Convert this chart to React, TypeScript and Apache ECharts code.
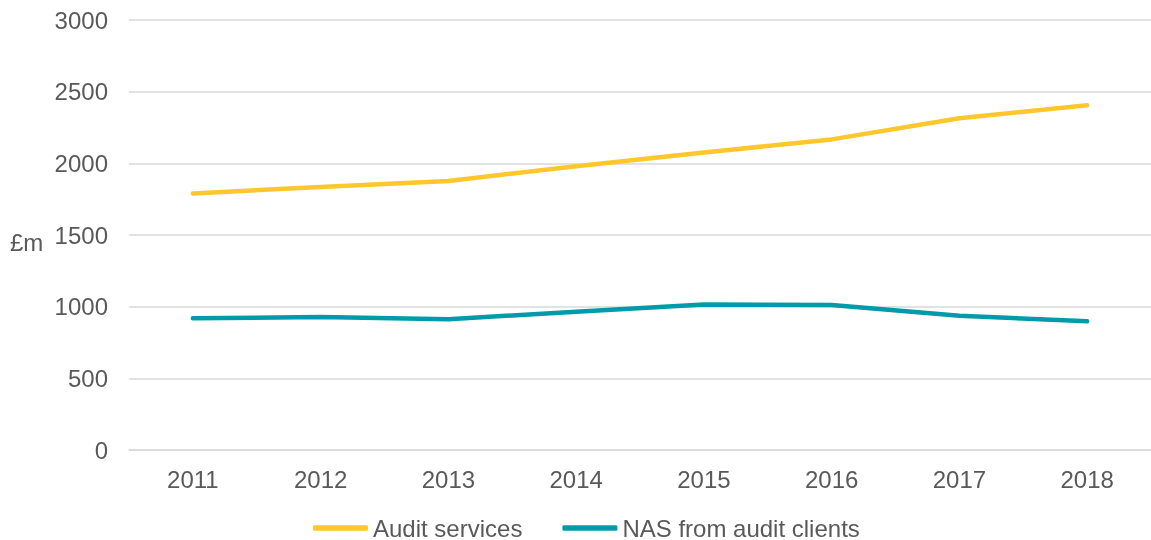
import React, { useEffect, useRef } from "react";
import * as echarts from "echarts";

const years = ["2011", "2012", "2013", "2014", "2015", "2016", "2017", "2018"];
const auditServices = [1790, 1835, 1877, 1980, 2075, 2167, 2314, 2405];
const nasFromAuditClients = [919, 928, 912, 965, 1015, 1012, 937, 898];
const seriesNames = ["Audit services", "NAS from audit clients"];
const colors = ["#FFC72C", "#009BAA"];

export default function App() {
  const ref = useRef<HTMLDivElement>(null);
  useEffect(() => {
    if (!ref.current) return;
    const chart = echarts.init(ref.current, undefined, { renderer: "svg" });
    const font = "'Liberation Sans', Arial, sans-serif";
    chart.setOption({
      animation: false,
      color: colors,
      grid: { left: 129, right: -10, top: 20, bottom: 90 },
      xAxis: {
        type: "category",
        data: years,
        boundaryGap: true,
        axisLine: { show: true, lineStyle: { color: "#D9D9D9", width: 1.5 } },
        axisTick: { show: false },
        axisLabel: { color: "#595959", fontSize: 24, fontFamily: font, margin: 17 },
      },
      yAxis: {
        type: "value",
        min: 0,
        max: 3000,
        interval: 500,
        axisLine: { show: false },
        axisTick: { show: false },
        splitLine: { lineStyle: { color: "#D9D9D9", width: 1.5 } },
        axisLabel: {
          color: "#595959",
          fontSize: 24,
          fontFamily: font,
          margin: 21,
          formatter: (v: number) => String(v),
        },
      },
      legend: {
        data: seriesNames,
        top: 516,
        left: 313,
        padding: 0,
        icon: "roundRect",
        itemWidth: 55,
        itemHeight: 5.5,
        itemGap: 40,
        textStyle: { color: "#595959", fontSize: 24, lineHeight: 23, fontFamily: font },
      },
      graphic: [
        {
          type: "text",
          left: 10,
          top: 230,
          style: { text: "£m", fill: "#595959", fontSize: 24, fontFamily: font },
        },
      ],
      series: [
        {
          name: seriesNames[0],
          type: "line",
          data: auditServices,
          showSymbol: false,
          lineStyle: { width: 4.5, cap: "round", join: "round" },
        },
        {
          name: seriesNames[1],
          type: "line",
          data: nasFromAuditClients,
          showSymbol: false,
          lineStyle: { width: 4.5, cap: "round", join: "round" },
        },
      ],
    });
    return () => chart.dispose();
  }, []);
  return (
    <div
      ref={ref}
      style={{ position: "fixed", left: 0, top: 0, width: 1151, height: 540 }}
    />
  );
}
